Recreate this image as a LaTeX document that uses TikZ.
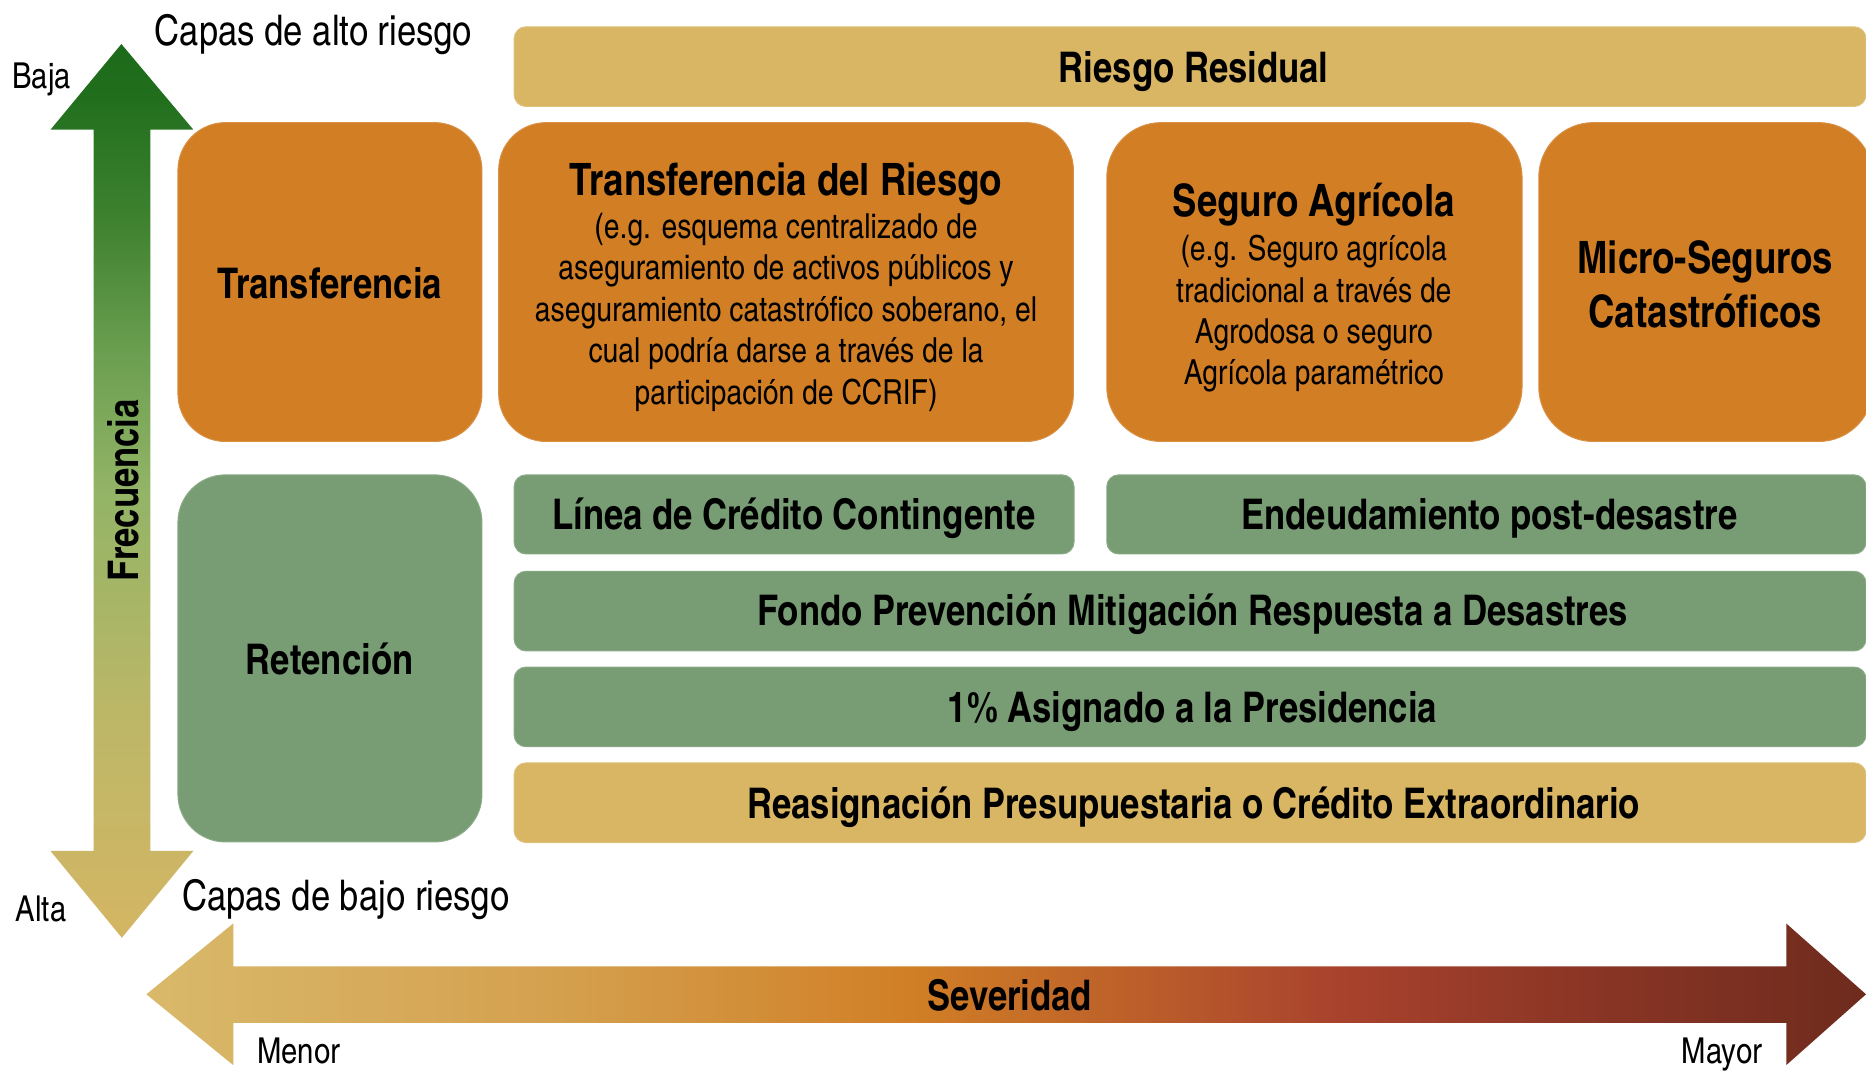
\documentclass[tikz,border=0pt]{standalone}
\usepackage{fontspec}
\setmainfont{texgyreheroscn}[Extension=.otf, UprightFont=*-regular, BoldFont=*-bold]
\usetikzlibrary{fit}
\definecolor{orangebox}{HTML}{D27E25}
\definecolor{greenbox}{HTML}{789D74}
\definecolor{tanbox}{HTML}{D9B664}
\definecolor{fq0}{HTML}{D4B664}
\definecolor{fq1}{HTML}{BCB767}
\definecolor{fq2}{HTML}{93B466}
\definecolor{fq3}{HTML}{6C9F51}
\definecolor{fq4}{HTML}{3F8230}
\definecolor{fq5}{HTML}{216F1D}
\definecolor{fq6}{HTML}{1C6B1A}
\definecolor{sv0}{HTML}{D9B96B}
\definecolor{sv1}{HTML}{D4A04E}
\definecolor{sv2}{HTML}{D17F26}
\definecolor{sv3}{HTML}{A8422D}
\definecolor{sv4}{HTML}{8A3525}
\definecolor{sv5}{HTML}{6E2B1D}
\pgfdeclareverticalshading{freqshade}{100bp}{color(0bp)=(fq0); color(25bp)=(fq0); color(37.5bp)=(fq1); color(50bp)=(fq2); color(57.5bp)=(fq3); color(65bp)=(fq4); color(72bp)=(fq5); color(75bp)=(fq6); color(100bp)=(fq6)}
\pgfdeclarehorizontalshading{sevshade}{100bp}{color(0bp)=(sv0); color(25bp)=(sv0); color(37bp)=(sv1); color(47.2bp)=(sv2); color(59.7bp)=(sv3); color(67bp)=(sv4); color(75bp)=(sv5); color(100bp)=(sv5)}
\begin{document}
\begin{tikzpicture}[x=0.5pt,y=-0.5pt,
  boxbase/.style={inner sep=0pt, outer sep=0pt, line width=0.4pt},
  bigbox/.style={boxbase, rounded corners=20pt},
  barbox/.style={boxbase, rounded corners=5pt},
  ob/.style={fill=orangebox, draw=orangebox!85!white},
  gb/.style={fill=greenbox, draw=greenbox!85!white},
  tb/.style={fill=tanbox, draw=tanbox!85!white},
  bt/.style={font=\fontsize{17.75}{21}\selectfont\bfseries, anchor=base, inner sep=0pt},
  tt/.style={font=\fontsize{18.75}{22}\selectfont\bfseries, anchor=base, inner sep=0pt},
  st/.style={font=\fontsize{14.5}{17.5}\selectfont, anchor=base, inner sep=0pt},
  ct/.style={font=\fontsize{17.75}{21}\selectfont, anchor=base, inner sep=0pt},
  lt/.style={font=\fontsize{15}{18}\selectfont, anchor=base, inner sep=0pt}]
\useasboundingbox (0,0) rectangle (1568,900);
\fill[white] (0,0) rectangle (1568,900);

% arrows
\path[shading=freqshade] (102,37) -- (162.5,109) -- (126.4,109) -- (126.4,715) -- (162.5,715)
  -- (102.4,788) -- (42.4,715) -- (78.7,715) -- (78.7,109) -- (42.4,109) -- cycle;
\path[shading=sevshade] (123,835.5) -- (196,776) -- (196,812) -- (1501,812) -- (1501,776)
  -- (1568,835.5) -- (1501,895) -- (1501,859.5) -- (196,859.5) -- (196,895) -- cycle;

% boxes
\node[bigbox, tb, rounded corners=5pt, fit={(432,22.5) (1568,89.5)}] (rr) {};
\node[bigbox, ob, fit={(149.5,103) (405,371)}] (tf) {};
\node[bigbox, ob, fit={(419,103) (902,371)}] (tdr) {};
\node[bigbox, ob, rounded corners=23pt, fit={(930,103) (1279,371)}] (sa) {};
\node[bigbox, ob, rounded corners=23pt, fit={(1293,103) (1574,371)}] (ms) {};
\node[bigbox, gb, fit={(149.5,399) (405,707.5)}] (rt) {};
\node[barbox, gb, fit={(432,399) (902.5,465.5)}] (lcc) {};
\node[barbox, gb, fit={(930,399) (1568,465.5)}] (epd) {};
\node[barbox, gb, fit={(432,480) (1568,547)}] (fp) {};
\node[barbox, gb, fit={(432,560.5) (1568,627.5)}] (ap) {};
\node[barbox, tb, fit={(432,641) (1568,708)}] (rp) {};

% texts
\node[ct] (alto) at (263.5,38) {Capas de alto riesgo};
\node[lt] (baja) at (35,74) {Baja};
\node[bt] (rrt) at (1003,69.5) {Riesgo Residual};
\node[bt] (tft) at (277,251) {Transferencia};
\node[tt] (tdrt) at (660.5,164) {Transferencia del Riesgo};
\node[st] (tdr1) at (660.5,200) {(e.g. esquema centralizado de};
\node[st] (tdr2) at (660.5,235) {aseguramiento de activos públicos y};
\node[st] (tdr3) at (660.5,270) {aseguramiento catastrófico soberano, el};
\node[st] (tdr4) at (660.5,305) {cual podría darse a través de la};
\node[st] (tdr5) at (660.5,340) {participación de CCRIF)};
\node[tt] (sat) at (1104,182) {Seguro Agrícola};
\node[st] (sa1) at (1104,219) {(e.g. Seguro agrícola};
\node[st] (sa2) at (1104,254) {tradicional a través de};
\node[st] (sa3) at (1104,289) {Agrodosa o seguro};
\node[st] (sa4) at (1104,323.5) {Agrícola paramétrico};
\node[tt] (mst1) at (1433,230) {Micro-Seguros};
\node[tt] (mst2) at (1433,275) {Catastróficos};
\node[bt, rotate=90, anchor=center] (frec) at (104,412) {Frecuencia};
\node[bt] (rtt) at (277,567) {Retención};
\node[bt] (lcct) at (667,445) {Línea de Crédito Contingente};
\node[bt] (epdt) at (1251.5,445) {Endeudamiento post-desastre};
\node[bt] (fpt) at (1002,526) {Fondo Prevención Mitigación Respuesta a Desastres};
\node[bt] (apt) at (1002,607) {1\% Asignado a la Presidencia};
\node[bt] (rpt) at (1003,688) {Reasignación Presupuestaria o Crédito Extraordinario};
\node[lt] (alta) at (34.5,774) {Alta};
\node[ct] (bajo) at (290.5,765) {Capas de bajo riesgo};
\node[bt] (sev) at (848.5,849) {Severidad};
\node[lt] (menor) at (251,894) {Menor};
\node[lt] (mayor) at (1447,894) {Mayor};
\end{tikzpicture}
\end{document}
